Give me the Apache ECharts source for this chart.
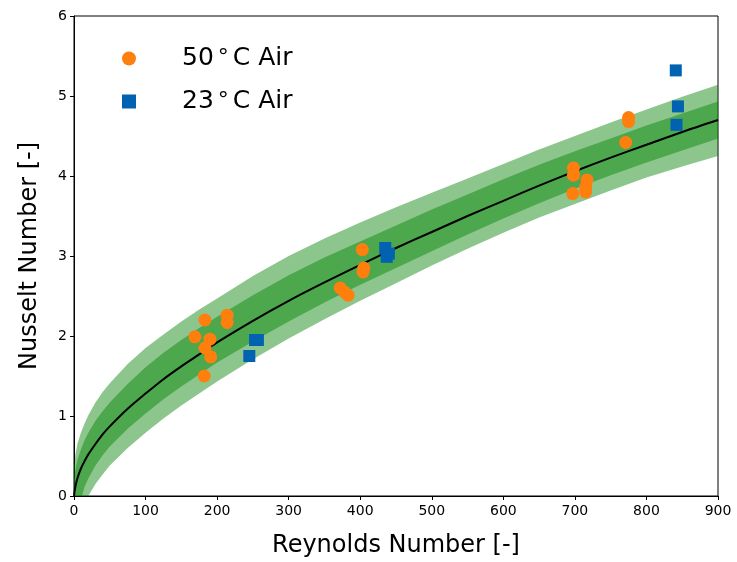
<!DOCTYPE html>
<html>
<head>
<meta charset="utf-8">
<script src="https://cdn.jsdelivr.net/npm/echarts@6/dist/echarts.min.js"></script>
<style>
  html, body { margin: 0; padding: 0; background: #fff; }
  #chart { width: 737px; height: 562px; }
</style>
</head>
<body>
<div id="chart"></div>
<script>
// measured points
const air50Re = [183, 214, 214, 169, 190, 183, 191, 182, 403, 404, 405, 372, 378, 383, 775, 775, 771, 698, 698, 717, 715, 715, 697]
const air50Nu = [2.2, 2.26, 2.17, 1.99, 1.96, 1.85, 1.74, 1.5, 3.08, 2.8, 2.85, 2.6, 2.55, 2.51, 4.73, 4.68, 4.42, 4.1, 4.01, 3.95, 3.86, 3.8, 3.78]
const air23Re = [253, 257, 245, 435, 437, 440, 844, 842, 841]
const air23Nu = [1.95, 1.95, 1.75, 3.1, 2.99, 3.03, 4.87, 4.64, 5.32]

// fit curve and upper band edges
const fitRe = [0, 2, 5, 10, 15, 20, 30, 40, 50, 75, 100, 125, 150, 175, 200, 250, 300, 350, 400, 450, 500, 550, 600, 650, 700, 750, 800, 850, 900]
const fitNu = [0, 0.12, 0.23, 0.35, 0.44, 0.52, 0.65, 0.77, 0.87, 1.09, 1.28, 1.46, 1.62, 1.77, 1.92, 2.19, 2.44, 2.67, 2.89, 3.1, 3.3, 3.5, 3.69, 3.88, 4.06, 4.23, 4.39, 4.55, 4.7]
const outerUpNu = [0.36, 0.52, 0.66, 0.8, 0.91, 1.01, 1.17, 1.3, 1.41, 1.65, 1.85, 2.02, 2.18, 2.33, 2.47, 2.75, 3.0, 3.22, 3.42, 3.61, 3.79, 3.97, 4.15, 4.33, 4.5, 4.67, 4.83, 4.99, 5.14]
const innerUpNu = [0.2, 0.33, 0.46, 0.59, 0.7, 0.79, 0.94, 1.06, 1.17, 1.4, 1.61, 1.79, 1.95, 2.1, 2.24, 2.51, 2.76, 2.98, 3.18, 3.38, 3.58, 3.77, 3.96, 4.14, 4.31, 4.47, 4.63, 4.78, 4.93]

// lower band edges (start where they leave the x axis)
const innerLowRe = [11, 15, 20, 30, 40, 50, 75, 100, 125, 150, 175, 200, 250, 300, 350, 400, 450, 500, 550, 600, 650, 700, 750, 800, 850, 900]
const innerLowNu = [0, 0.12, 0.22, 0.38, 0.51, 0.62, 0.84, 1.03, 1.21, 1.37, 1.52, 1.67, 1.93, 2.18, 2.42, 2.64, 2.85, 3.06, 3.27, 3.47, 3.66, 3.84, 4.01, 4.17, 4.32, 4.47]
const outerLowRe = [20, 30, 40, 50, 75, 100, 125, 150, 175, 200, 250, 300, 350, 400, 450, 500, 550, 600, 650, 700, 750, 800, 850, 900]
const outerLowNu = [0, 0.15, 0.27, 0.38, 0.6, 0.79, 0.97, 1.13, 1.28, 1.43, 1.71, 1.97, 2.21, 2.44, 2.66, 2.88, 3.09, 3.29, 3.48, 3.65, 3.82, 3.98, 4.12, 4.25]

const zip = (xs, ys) => xs.map((x, i) => [x, ys[i]])

// polygon: upper edge left->right, lower edge right->left, back to origin
const bandPolygon = (upRe, upNu, lowRe, lowNu) => {
  const pts = zip(upRe, upNu)
  for (let i = lowRe.length - 1; i >= 0; i--) pts.push([lowRe[i], lowNu[i]])
  pts.push([0, 0])
  return pts
}

const outerBand = bandPolygon(fitRe, outerUpNu, outerLowRe, outerLowNu)
const innerBand = bandPolygon(fitRe, innerUpNu, innerLowRe, innerLowNu)

const bandSeries = (pts, z) => ({
  type: 'custom',
  coordinateSystem: 'cartesian2d',
  silent: true,
  clip: true,
  z: z,
  data: [[0, 0]],
  renderItem: (params, api) => ({
    type: 'polygon',
    shape: { points: pts.map((p) => api.coord(p)) },
    style: { fill: 'rgba(0,128,0,0.45)', stroke: 'none' },
  }),
})

const chart = echarts.init(document.getElementById('chart'))

const tickFont = { fontFamily: 'DejaVu Sans', fontSize: 14, color: '#000' }
const nameFont = { fontFamily: 'DejaVu Sans', fontSize: 24, color: '#000' }

chart.setOption({
  animation: false,
  backgroundColor: '#fff',
  grid: {
    left: 74, right: 19, top: 16, bottom: 66,
    outerBoundsMode: 'none',
    containLabel: false,
    show: true, borderColor: '#000', borderWidth: 1,
  },
  legend: {
    orient: 'vertical',
    left: 117,
    top: 41,
    itemWidth: 14,
    itemHeight: 14,
    itemGap: 18,
    data: [
      { name: '50C', icon: 'circle' },
      { name: '23C', icon: 'rect' },
    ],
    // 50°C Air with the degree ring set apart, as matplotlib's $^\circ$
    formatter: (name) => '{n|' + name.slice(0, 2) + '}{d|°}{n|C Air}',
    textStyle: {
      fontFamily: 'DejaVu Sans',
      fontSize: 25,
      color: '#000',
      rich: {
        n: { fontFamily: 'DejaVu Sans', fontSize: 25, color: '#000' },
        d: { fontFamily: 'DejaVu Sans', fontSize: 22, color: '#000', padding: [0, 4, 0, 4] },
      },
      padding: [0, 0, 0, 41],
    },
  },
  xAxis: {
    type: 'value',
    min: 0,
    max: 900,
    interval: 100,
    name: 'Reynolds Number [-]',
    nameLocation: 'middle',
    nameGap: 38,
    nameTextStyle: nameFont,
    axisLine: { show: true, onZero: false, lineStyle: { color: '#000', width: 1 } },
    axisTick: { show: true, length: 4, lineStyle: { color: '#000' } },
    axisLabel: { ...tickFont, margin: 8 },
    splitLine: { show: false },
  },
  yAxis: {
    type: 'value',
    min: 0,
    max: 6,
    interval: 1,
    name: 'Nusselt Number [-]',
    nameLocation: 'middle',
    nameGap: 32,
    nameTextStyle: nameFont,
    axisLine: { show: true, onZero: false, lineStyle: { color: '#000', width: 1 } },
    axisTick: { show: true, length: 4, lineStyle: { color: '#000' } },
    axisLabel: { ...tickFont, margin: 7 },
    splitLine: { show: false },
  },
  series: [
    bandSeries(outerBand, 1),
    bandSeries(innerBand, 2),
    {
      name: 'fit',
      type: 'line',
      data: zip(fitRe, fitNu),
      smooth: 0.3,
      showSymbol: false,
      z: 3,
      lineStyle: { color: '#000', width: 2 },
    },
    {
      name: '50C',
      type: 'scatter',
      symbol: 'circle',
      symbolSize: 13,
      z: 4,
      itemStyle: { color: '#ff7f0e', opacity: 1 },
      data: zip(air50Re, air50Nu),
    },
    {
      name: '23C',
      type: 'scatter',
      symbol: 'rect',
      symbolSize: 12,
      z: 5,
      itemStyle: { color: '#0062b1', opacity: 1 },
      data: zip(air23Re, air23Nu),
    },
  ],
})
</script>
</body>
</html>
